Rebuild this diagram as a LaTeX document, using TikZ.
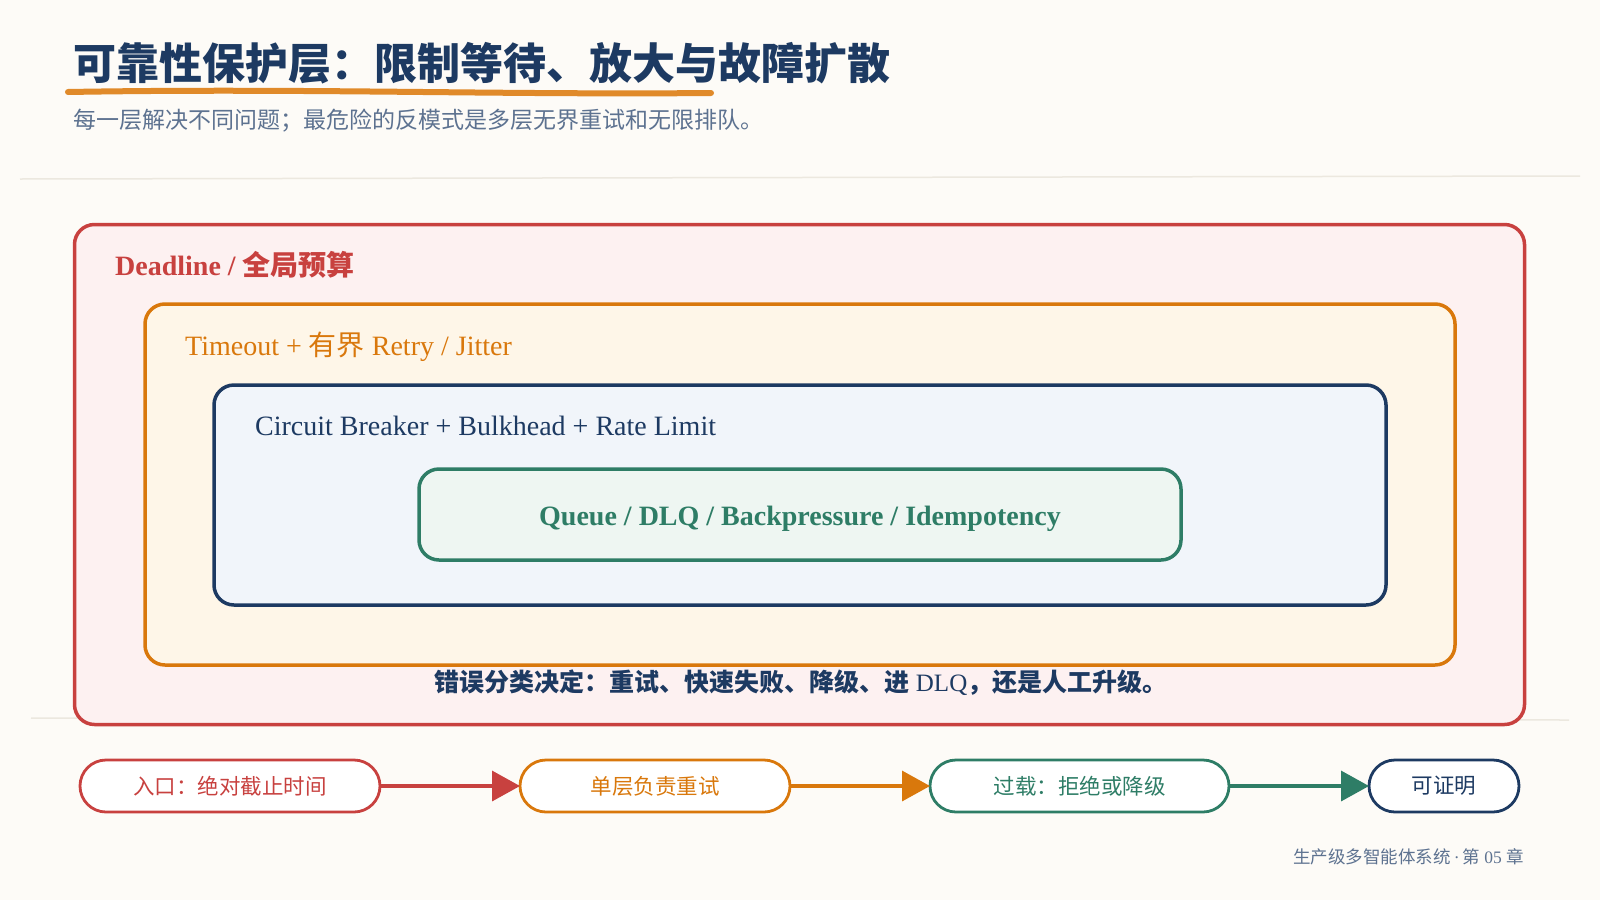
\documentclass[tikz,border=0pt]{standalone}
\usepackage{fontspec}
\setmainfont{Liberation Serif}
\newfontfamily\cjk{Noto Sans CJK SC}
\usepackage{tikz}
\usetikzlibrary{arrows.meta}
\usetikzlibrary{positioning}
\usepackage{xcolor}

\definecolor{paper}{HTML}{FDFBF7}
\definecolor{ink}{HTML}{1D3A62}
\definecolor{mute}{HTML}{5D7290}
\definecolor{rule}{HTML}{ECE8DF}
\definecolor{red}{HTML}{C8413F}
\definecolor{redfill}{HTML}{FDF1F1}
\definecolor{amber}{HTML}{D9780C}
\definecolor{amberfill}{HTML}{FEF6E8}
\definecolor{navyfill}{HTML}{F1F5FA}
\definecolor{teal}{HTML}{2E7D66}
\definecolor{tealfill}{HTML}{EEF6F2}
\definecolor{marker}{HTML}{E08A2A}

\tikzset{
  layer/.style={draw,rectangle,rounded corners=20pt,line width=3.5pt,inner sep=0pt,outer sep=0pt},
  tag/.style={anchor=west,inner sep=0pt,font=\fontsize{28}{32}\selectfont},
  pill/.style={draw,rectangle,rounded corners=26pt,line width=2.8pt,fill=white,minimum height=52pt,inner sep=0pt,outer sep=0pt,font=\fontsize{21.5}{25}\selectfont\cjk},
}

\begin{document}
\begin{tikzpicture}[x=1pt,y=-1pt]
  \useasboundingbox [fill=paper] (0,0) rectangle (1600,900);

  \node (title) [anchor=west,inner sep=0pt,text=ink,font=\fontsize{43}{50}\selectfont\cjk\bfseries] at (73,63) {可靠性保护层：限制等待、放大与故障扩散};
  \draw [marker,line width=6pt,line cap=round] (68,92) .. controls (300,88) and (500,95) .. (711,93);
  \node (subtitle) [anchor=west,inner sep=0pt,text=mute,font=\fontsize{23}{27}\selectfont\cjk] at (73,121) {每一层解决不同问题；最危险的反模式是多层无界重试和无限排队。};

  \draw [rule,line width=1.5pt] (20,179) -- (1580,176);
  \draw [rule,line width=1.5pt] (31,718) -- (1569,720);

  \node (deadline) [layer,draw=red,fill=redfill,minimum width=1450pt,minimum height=500pt] at (799.5,474.5) {};
  \node (timeout) [layer,draw=amber,fill=amberfill,minimum width=1310pt,minimum height=361pt] at (800,484.5) {};
  \node (breaker) [layer,draw=ink,fill=navyfill,minimum width=1172pt,minimum height=220pt] at (800,495) {};
  \node (queue) [layer,draw=teal,fill=tealfill,minimum width=762pt,minimum height=91pt,text height=27pt,text depth=6pt,text=teal,font=\fontsize{28}{32}\selectfont\bfseries] at (800,514.5) {Queue / DLQ / Backpressure / Idempotency};

  \node (deadline-tag) [tag,text=red,font=\fontsize{28}{32}\selectfont\bfseries] at (115,265) {Deadline / {\cjk 全局预算}};
  \node (timeout-tag) [tag,text=amber] at (185,347) {Timeout + {\cjk 有界} Retry / Jitter};
  \node (breaker-tag) [tag,text=ink] at (255,426) {Circuit Breaker + Bulkhead + Rate Limit};

  \node (verdict) [inner sep=0pt,text=ink,font=\fontsize{25}{30}\selectfont] at (801,683) {{\cjk\bfseries 错误分类决定：重试、快速失败、降级、进} DLQ{\cjk\bfseries ，还是人工升级。}};

  \node (entry) [pill,draw=red,text=red,minimum width=300pt] at (230,786) {入口：绝对截止时间};
  \node (retry) [pill,draw=amber,text=amber,minimum width=270pt,right=140pt of entry] {单层负责重试};
  \node (shed) [pill,draw=teal,text=teal,minimum width=299pt,right=140pt of retry] {过载：拒绝或降级};
  \node (proof) [pill,draw=ink,text=ink,minimum width=150pt,right=140pt of shed] {可证明};

  \path [every edge/.style={draw,line width=3.5pt,-{Triangle[length=28pt,width=30pt]}}]
    (entry) edge [red] (retry)
    (retry) edge [amber] (shed)
    (shed) edge [teal] (proof);

  \node (footer) [anchor=east,inner sep=0pt,text=mute,font=\fontsize{17.5}{21}\selectfont] at (1524,857) {{\cjk 生产级多智能体系统}\,·\,{\cjk 第} 05 {\cjk 章}};
\end{tikzpicture}
\end{document}
